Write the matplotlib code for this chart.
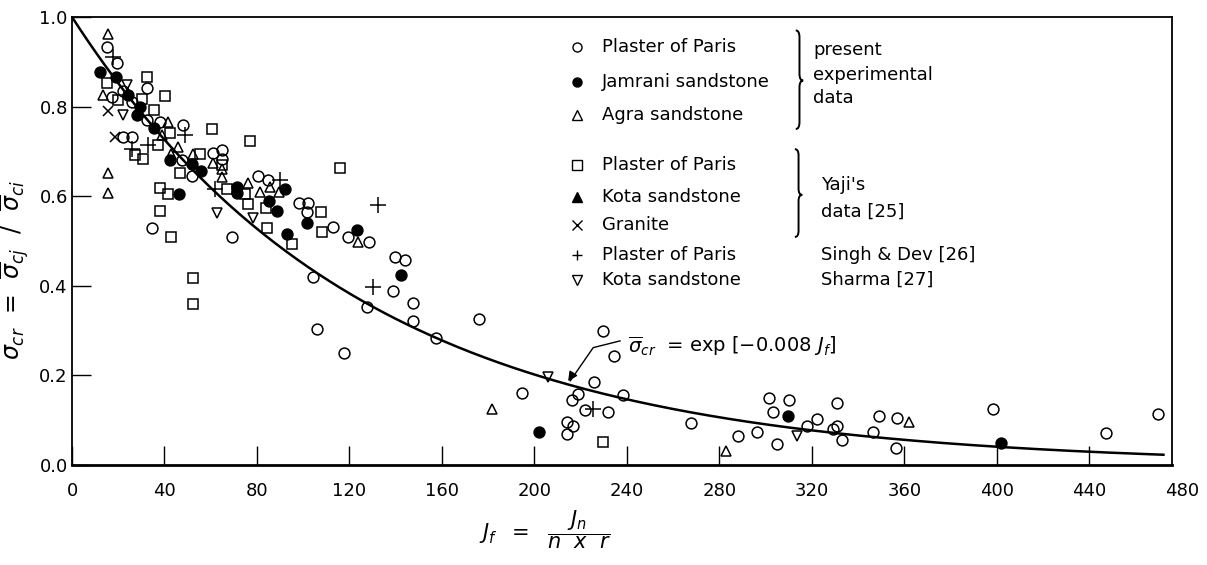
import numpy as np
import matplotlib
matplotlib.use("Agg")
import matplotlib.pyplot as plt
from matplotlib.path import Path
from matplotlib.patches import PathPatch

plt.rcParams['font.family'] = ['DejaVu Sans']
plt.rcParams['mathtext.fontset'] = 'dejavusans'

# ---- data (J_f, sigma ratio) ----
pop_present_x = [15.0, 19.3, 32.3, 21.9, 17.2, 25.8, 32.3, 38, 48.1, 22.2, 25.8, 47.6, 51.8, 61.1, 64.7, 64.7,
                 80.6, 84.9, 98.3, 102.2, 101.5, 113, 34.5, 69, 119.5, 128.6, 104.4, 105.8, 117.8, 139.7, 144,
                 138.7, 127.7, 147.6, 147.3, 176.1, 157.4, 229.5, 234.4, 225.9, 194.5, 219, 238.4, 216.1, 221.8,
                 231.9, 213.9, 216.5, 213.9, 267.5, 288.1, 296.4, 301.5, 310.2, 303.3, 305, 318, 322, 330.7, 329.2,
                 330.7, 332.8, 346.5, 349, 356.6, 356.3, 398.4, 447.1, 469.8]
pop_present_y = [0.934, 0.897, 0.841, 0.834, 0.822, 0.811, 0.77, 0.766, 0.759, 0.733, 0.733, 0.68, 0.644, 0.696,
                 0.703, 0.682, 0.644, 0.636, 0.585, 0.585, 0.565, 0.532, 0.53, 0.508, 0.51, 0.498, 0.42, 0.304,
                 0.249, 0.465, 0.458, 0.389, 0.352, 0.362, 0.322, 0.326, 0.283, 0.298, 0.243, 0.185, 0.16, 0.158,
                 0.156, 0.144, 0.123, 0.119, 0.097, 0.086, 0.069, 0.093, 0.065, 0.074, 0.149, 0.145, 0.118, 0.047,
                 0.086, 0.103, 0.138, 0.08, 0.087, 0.056, 0.074, 0.11, 0.104, 0.037, 0.124, 0.072, 0.114]

jamrani_x = [12.1, 19.0, 24.4, 29.4, 28.2, 35.5, 42.4, 51.8, 55.6, 46.4, 71.2, 71.2, 85.3, 88.5, 92.3, 101.8,
             92.8, 123.2, 142.2, 202.1, 309.5, 401.6]
jamrani_y = [0.878, 0.865, 0.826, 0.80, 0.781, 0.752, 0.681, 0.672, 0.656, 0.605, 0.621, 0.608, 0.59, 0.567,
             0.615, 0.54, 0.515, 0.525, 0.425, 0.074, 0.11, 0.048]

agra_x = [15.7, 13.5, 41.6, 38.8, 46, 43, 52.5, 61.1, 64.7, 64.7, 15.7, 15.7, 76.3, 81.3, 85.6, 89.6, 123.8,
          181.5, 283, 362.1]
agra_y = [0.963, 0.826, 0.766, 0.737, 0.71, 0.695, 0.694, 0.674, 0.661, 0.643, 0.651, 0.608, 0.63, 0.61, 0.621,
          0.61, 0.498, 0.124, 0.031, 0.097]

yaji_pop_x = [32.3, 15.0, 40.2, 20.0, 30.1, 35.5, 60.4, 42.4, 77, 37.3, 27.2, 30.8, 55.4, 46.7, 64.7, 115.9,
              66.9, 74.8, 76.2, 83.7, 107.8, 108.3, 84.2, 95, 38, 41.6, 38, 42.8, 52.2, 52.2, 229.5]
yaji_pop_y = [0.865, 0.852, 0.824, 0.815, 0.818, 0.792, 0.749, 0.740, 0.724, 0.714, 0.692, 0.682, 0.694, 0.652,
              0.67, 0.662, 0.617, 0.606, 0.583, 0.573, 0.565, 0.519, 0.53, 0.493, 0.618, 0.606, 0.568, 0.51,
              0.417, 0.359, 0.051]

yaji_kota_x = []
yaji_kota_y = []

granite_x = [15.7, 18.6]
granite_y = [0.79, 0.733]

singh_x = [17.9, 48.9, 33, 26, 61.8, 90, 132.5, 130.3, 225.4]
singh_y = [0.911, 0.737, 0.714, 0.705, 0.617, 0.636, 0.58, 0.398, 0.124]

sharma_x = [23.6, 22.2, 62.6, 78.1, 206, 313.4]
sharma_y = [0.848, 0.781, 0.562, 0.551, 0.196, 0.065]

fit_coef = -0.008
fit_jmax = 472

xticks = [0, 40, 80, 120, 160, 200, 240, 280, 320, 360, 400, 440]
yticks = [0.0, 0.2, 0.4, 0.6, 0.8, 1.0]

legend_labels = ['Plaster of Paris', 'Jamrani sandstone', 'Agra sandstone',
                 'Plaster of Paris', 'Kota sandstone', 'Granite',
                 'Plaster of Paris', 'Kota sandstone']

# ---- figure ----
fig = plt.figure(figsize=(12.07, 5.65), dpi=100)
ax = fig.add_axes([72/1207, 1-465/565, (1172-72)/1207, (465-17)/565])
ax.set_xlim(0, 475.7)
ax.set_ylim(0, 1.0)

lw = 1.1
ms = 7.8
k = 'black'
styles = [
    dict(marker='o', mfc='none', mec=k),
    dict(marker='o', mfc=k, mec=k),
    dict(marker='^', mfc='none', mec=k),
    dict(marker='s', mfc='none', mec=k),
    dict(marker='^', mfc=k, mec=k),
    dict(marker='x', mfc=k, mec=k),
    dict(marker='+', mfc=k, mec=k),
    dict(marker='v', mfc='none', mec=k),
]
series = [(pop_present_x, pop_present_y), (jamrani_x, jamrani_y), (agra_x, agra_y),
          (yaji_pop_x, yaji_pop_y), (yaji_kota_x, yaji_kota_y), (granite_x, granite_y),
          (singh_x, singh_y), (sharma_x, sharma_y)]
sizes = [ms, ms, ms, ms * 0.95, ms, ms, ms * 1.5, ms]
for (xs, ys), st, s in zip(series, styles, sizes):
    ax.plot(xs, ys, ls='none', ms=s, mew=lw, clip_on=False, **st)

# fitted curve
jj = np.linspace(0, fit_jmax, 400)
ax.plot(jj, np.exp(fit_coef * jj), color=k, lw=1.8)

# ticks
ax.set_xticks(xticks)
ax.set_xticklabels([str(t) for t in xticks])
ax.set_yticks(yticks)
ax.set_yticklabels(['0.0', '0.2', '0.4', '0.6', '0.8', '1.0'])
ax.tick_params(axis='both', direction='in', length=14, width=1.0, labelsize=13)
ax.tick_params(axis='x', pad=12)
ax.tick_params(axis='y', pad=3)
ax.annotate('480', xy=(480, 0), xycoords='data', xytext=(0, -12), textcoords='offset points',
            ha='center', va='top', fontsize=13, annotation_clip=False)
for sp in ax.spines.values():
    sp.set_linewidth(1.3)
ax.spines['bottom'].set_linewidth(2.0)

# legend (custom)
leg_ys = [0.934, 0.856, 0.781, 0.670, 0.599, 0.536, 0.469, 0.414]
for y, st, lab in zip(leg_ys, styles, legend_labels):
    ax.plot([218.2], [y], ls='none', ms=6.5, mew=1.0, **st)
    ax.text(229, y, lab, ha='left', va='center', fontsize=13)

def brace(x0, ylo, yhi, ytip, w):
    d = (yhi - ylo) * 0.07
    xm = x0 + w / 2
    verts = [(x0, yhi), (xm, yhi), (xm, yhi - d),
             (xm, ytip + d), (xm, ytip), (x0 + w, ytip),
             (xm, ytip), (xm, ytip - d),
             (xm, ylo + d), (xm, ylo), (x0, ylo)]
    codes = [Path.MOVETO, Path.CURVE3, Path.CURVE3,
             Path.LINETO, Path.CURVE3, Path.CURVE3,
             Path.CURVE3, Path.CURVE3,
             Path.LINETO, Path.CURVE3, Path.CURVE3]
    ax.add_patch(PathPatch(Path(verts, codes), fill=False, lw=1.4, color=k))

brace(313.0, 0.750, 0.970, 0.858, 3.2)
brace(312.6, 0.509, 0.705, 0.603, 3.2)

ax.text(320.6, 0.926, 'present', ha='left', va='center', fontsize=13)
ax.text(320.6, 0.871, 'experimental', ha='left', va='center', fontsize=13)
ax.text(320.6, 0.819, 'data', ha='left', va='center', fontsize=13)
ax.text(324, 0.625, "Yaji's", ha='left', va='center', fontsize=13)
ax.text(324, 0.565, 'data [25]', ha='left', va='center', fontsize=13)
ax.text(324, 0.469, 'Singh & Dev [26]', ha='left', va='center', fontsize=13)
ax.text(324, 0.414, 'Sharma [27]', ha='left', va='center', fontsize=13)

# equation annotation with leader
ax.plot([237, 225.4, 215.5], [0.277, 0.262, 0.188], color=k, lw=1.0)
ax.annotate('', xy=(213.9, 0.182), xytext=(217.5, 0.21),
            arrowprops=dict(arrowstyle='-|>', color=k, lw=1.0, mutation_scale=14))
ax.text(240.5, 0.265, r'$\overline{\sigma}_{cr}$  = exp $\left[-0.008\ J_f\right]$',
        ha='left', va='center', fontsize=14)

# axis labels
fig.text(15/1207, 1-270/565, r'$\sigma_{cr}$  =  $\overline{\sigma}_{cj}$  /  $\overline{\sigma}_{ci}$',
         rotation=90, ha='center', va='center', fontsize=17)
fig.text(545/1207, 1-530/565, r'$J_f\ \ =\ \ \dfrac{J_n}{n\ \ x\ \ r}$',
         ha='center', va='center', fontsize=15)

fig.savefig('out.png', dpi=100, facecolor='white')
